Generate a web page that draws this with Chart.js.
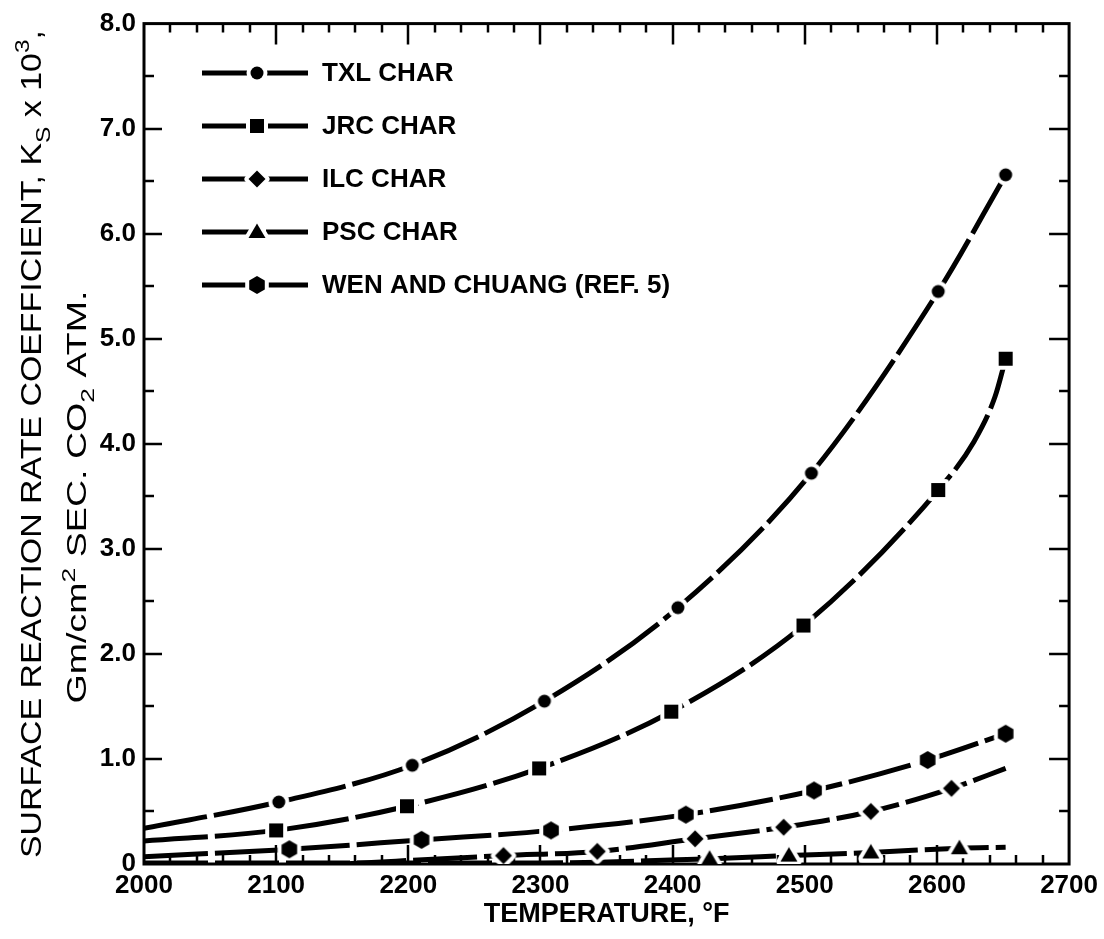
<!DOCTYPE html>
<html>
<head>
<meta charset="utf-8">
<title>Surface reaction rate coefficient vs temperature</title>
<script src="https://cdn.jsdelivr.net/npm/chart.js@4.4.1/dist/chart.umd.min.js"></script>
<style>
  html, body { margin: 0; padding: 0; background: #fff; }
  #wrap { width: 1104px; height: 939px; }
</style>
</head>
<body>
<div id="wrap"><canvas id="ksChart" width="1104" height="939"></canvas></div>
<script>
// ====== DATA ======
// temperature (°F), Ks x 10^3, and 1 where a symbol is plotted
const txlTemp = [2000, 2102, 2203, 2303, 2404, 2505, 2601, 2652];
const txlKs   = [0.34, 0.59, 0.94, 1.55, 2.44, 3.72, 5.45, 6.56];
const txlMark = [0, 1, 1, 1, 1, 1, 1, 1];

const jrcTemp = [2000, 2100, 2199, 2299, 2399, 2499, 2601, 2628, 2644, 2652];
const jrcKs   = [0.22, 0.32, 0.55, 0.91, 1.45, 2.27, 3.56, 4.02, 4.45, 4.81];
const jrcMark = [0, 1, 1, 1, 1, 1, 1, 0, 0, 1];

const ilcTemp = [2150, 2272, 2343, 2417, 2484, 2550, 2611, 2652];
const ilcKs   = [0.0, 0.08, 0.12, 0.24, 0.35, 0.5, 0.72, 0.91];
const ilcMark = [0, 1, 1, 1, 1, 1, 1, 0];

const pscTemp = [2000, 2300, 2428, 2488, 2550, 2617, 2652];
const pscKs   = [0.01, 0.01, 0.05, 0.08, 0.11, 0.15, 0.16];
const pscMark = [0, 0, 1, 1, 1, 1, 0];

const wenTemp = [2000, 2110, 2210, 2308, 2410, 2507, 2593, 2652];
const wenKs   = [0.07, 0.14, 0.23, 0.32, 0.47, 0.7, 0.99, 1.24];
const wenMark = [0, 1, 1, 1, 1, 1, 1, 1];

const seriesNames = ["TXL CHAR", "JRC CHAR", "ILC CHAR", "PSC CHAR", "WEN AND CHUANG (REF. 5)"];
const xTicks = [2000, 2100, 2200, 2300, 2400, 2500, 2600, 2700];
const yTicks = [0, 1, 2, 3, 4, 5, 6, 7, 8];

const FONT = "'Liberation Sans', Arial, Helvetica, sans-serif";

// ====== MARKER SYMBOLS (black with a white halo that breaks the line) ======
function makeMarker(shape) {
  const c = document.createElement("canvas");
  c.width = 28; c.height = 28;
  const g = c.getContext("2d");
  g.translate(14, 14);
  g.beginPath();
  if (shape === "circle") {
    g.arc(0, 0, 6.5, 0, Math.PI * 2);
  } else if (shape === "square") {
    g.rect(-7, -7, 14, 14);
  } else if (shape === "diamond") {
    g.moveTo(0, -8.5); g.lineTo(8.5, 0); g.lineTo(0, 8.5); g.lineTo(-8.5, 0); g.closePath();
  } else if (shape === "triangle") {
    g.moveTo(0, -8.5); g.lineTo(8.5, 6); g.lineTo(-8.5, 6); g.closePath();
  } else {
    for (let i = 0; i < 6; i++) {
      const a = -Math.PI / 2 + i * Math.PI / 3;
      const px = Math.cos(a) * 9, py = Math.sin(a) * 9;
      if (i === 0) g.moveTo(px, py); else g.lineTo(px, py);
    }
    g.closePath();
  }
  g.lineJoin = "round";
  g.strokeStyle = "#fff";
  g.lineWidth = 8;
  g.stroke();
  g.fillStyle = "#000";
  g.fill();
  return c;
}

const markers = ["circle", "square", "diamond", "triangle", "hexagon"].map(makeMarker);

function makeSet(i, temps, ks, marks) {
  return {
    label: seriesNames[i],
    data: temps.map((t, k) => ({ x: t, y: ks[k] })),
    borderColor: "#000",
    borderWidth: 5,
    borderDash: [64, 7],
    borderCapStyle: "butt",
    cubicInterpolationMode: "monotone",
    fill: false,
    pointStyle: markers[i],
    pointRadius: ctx => marks[ctx.dataIndex] ? 8 : 0,
    pointHoverRadius: 0,
    pointHitRadius: 0
  };
}

// ====== FRAME WITH INWARD TICKS ======
const frameTicks = {
  id: "frameTicks",
  beforeDatasetsDraw(chart) {
    const { ctx, chartArea: a, scales: { x, y } } = chart;
    ctx.save();
    ctx.strokeStyle = "#000";
    ctx.lineWidth = 2.5;
    ctx.beginPath();
    for (let t = xTicks[0] + 20; t < xTicks[xTicks.length - 1]; t += 20) {
      const px = Math.round(x.getPixelForValue(t));
      const major = xTicks.includes(t);
      ctx.moveTo(px, a.bottom); ctx.lineTo(px, a.bottom - (major ? 19 : 9));
      ctx.moveTo(px, a.top); ctx.lineTo(px, a.top + (major ? 21 : 9));
    }
    for (let v = yTicks[0] + 0.5; v < yTicks[yTicks.length - 1]; v += 0.5) {
      const py = Math.round(y.getPixelForValue(v));
      const major = yTicks.includes(v);
      ctx.moveTo(a.left, py); ctx.lineTo(a.left + (major ? 18 : 10), py);
      ctx.moveTo(a.right, py); ctx.lineTo(a.right - (major ? 20 : 10), py);
    }
    ctx.stroke();
    ctx.lineWidth = 3;
    ctx.strokeRect(a.left, a.top, a.right - a.left, a.bottom - a.top);
    ctx.restore();
  }
};

// ====== LEGEND (dash, symbol, dash) ======
const legendRows = [73, 126, 179, 232, 285];
const keyLegend = {
  id: "keyLegend",
  afterDraw(chart) {
    const ctx = chart.ctx;
    ctx.save();
    ctx.fillStyle = "#000";
    ctx.strokeStyle = "#000";
    ctx.font = "bold 26px " + FONT;
    ctx.textBaseline = "middle";
    seriesNames.forEach((name, i) => {
      const yy = legendRows[i];
      ctx.lineWidth = 5;
      ctx.beginPath();
      ctx.moveTo(202, yy); ctx.lineTo(249, yy);
      ctx.moveTo(266, yy); ctx.lineTo(308, yy);
      ctx.stroke();
      ctx.drawImage(markers[i], 257 - 14, yy - 14);
      ctx.fillText(name, 322, yy + 1);
    });
    ctx.restore();
  }
};

// ====== ROTATED Y TITLE WITH SUB/SUPERSCRIPTS ======
const yTitleLines = [
  { parts: [["SURFACE REACTION RATE COEFFICIENT, K", 0], ["S", -1], [" x 10", 0], ["3", 1], [",", 0]],
    x: 41, y: 444, len: 828, size: 29 },
  { parts: [["Gm/cm", 0], ["2", 1], [" SEC. CO", 0], ["2", -1], [" ATM.", 0]],
    x: 86, y: 497, len: 413, size: 27 }
];
const yTitle = {
  id: "yTitle",
  afterDraw(chart) {
    const ctx = chart.ctx;
    yTitleLines.forEach(line => {
      const fontFor = s => (s === 0 ? line.size : Math.round(line.size * 0.72)) + "px " + FONT;
      let total = 0;
      line.parts.forEach(([txt, s]) => { ctx.font = fontFor(s); total += ctx.measureText(txt).width; });
      ctx.save();
      ctx.translate(line.x, line.y);
      ctx.rotate(-Math.PI / 2);
      ctx.scale(line.len / total, 1);
      ctx.fillStyle = "#000";
      ctx.textBaseline = "alphabetic";
      let pos = -total / 2;
      line.parts.forEach(([txt, s]) => {
        ctx.font = fontFor(s);
        const shift = s === -1 ? line.size * 0.3 : s === 1 ? -line.size * 0.42 : 0;
        ctx.fillText(txt, pos, shift);
        pos += ctx.measureText(txt).width;
      });
      ctx.restore();
    });
  }
};

// ====== CHART ======
const ctx = document.getElementById("ksChart").getContext("2d");

const ksChart = new Chart(ctx, {
  type: "line",
  data: {
    datasets: [
      makeSet(0, txlTemp, txlKs, txlMark),
      makeSet(1, jrcTemp, jrcKs, jrcMark),
      makeSet(2, ilcTemp, ilcKs, ilcMark),
      makeSet(3, pscTemp, pscKs, pscMark),
      makeSet(4, wenTemp, wenKs, wenMark)
    ]
  },
  options: {
    responsive: false,
    animation: false,
    devicePixelRatio: 1,
    layout: { padding: { left: 0, right: 28, top: 21, bottom: 0 } },
    plugins: {
      legend: { display: false },
      tooltip: { enabled: false }
    },
    scales: {
      x: {
        type: "linear",
        min: xTicks[0],
        max: xTicks[xTicks.length - 1],
        afterBuildTicks: scale => { scale.ticks = xTicks.map(v => ({ value: v })); },
        afterFit: scale => { scale.height = 75; },
        grid: { display: false, drawTicks: false },
        border: { display: false },
        ticks: {
          color: "#000",
          font: { family: FONT, size: 26, weight: "bold" },
          padding: 6,
          maxRotation: 0,
          callback: v => String(v)
        },
        title: {
          display: true,
          text: "TEMPERATURE, °F",
          color: "#000",
          font: { family: FONT, size: 27, weight: "bold" },
          padding: { top: 0, bottom: 8 }
        }
      },
      y: {
        min: yTicks[0],
        max: yTicks[yTicks.length - 1],
        afterBuildTicks: scale => { scale.ticks = yTicks.map(v => ({ value: v })); },
        afterFit: scale => { scale.width = 144; },
        grid: { display: false, drawTicks: false },
        border: { display: false },
        ticks: {
          color: "#000",
          font: { family: FONT, size: 26, weight: "bold" },
          padding: 8,
          callback: v => v === 0 ? "0" : v.toFixed(1)
        }
      }
    }
  },
  plugins: [frameTicks, keyLegend, yTitle]
});
</script>
</body>
</html>
